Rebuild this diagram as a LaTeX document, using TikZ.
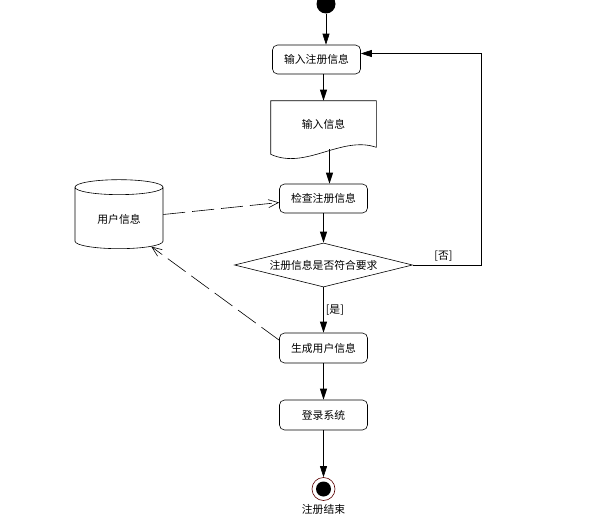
\documentclass[tikz,border=0pt]{standalone}
\usepackage{fontspec}
\setmainfont{Noto Sans CJK SC}
\usetikzlibrary{arrows.meta,positioning,shapes.geometric}

\begin{document}
\begin{tikzpicture}[x=1pt,y=-1pt,>={Triangle[length=11pt,width=7pt]},semithick,
		font=\fontsize{10.8}{12}\selectfont]
		\tikzset{act/.style={draw,rounded corners=5pt,minimum width=88pt,minimum height=29pt,inner sep=2pt},
			decision/.style={draw,diamond,aspect=4,minimum width=178pt,minimum height=44pt,inner sep=0pt},
			store/.style={draw,cylinder,shape border rotate=90,aspect=0.3,minimum width=88pt,minimum height=69pt},
			flow/.style={dash pattern=on 22pt off 7pt,-{Straight Barb[length=10pt,width=8pt]}}}
		\useasboundingbox (0,0) rectangle (598,530);

		\node[circle,fill,minimum size=19pt,inner sep=0pt] (start) at (326,4) {};
		\node[act,below of=start,node distance=55.5pt,xshift=-9.5pt] (input) {输入注册信息};
		\node[minimum width=105pt,minimum height=46pt,below of=input,node distance=64.5pt,xshift=7pt] (doc) {输入信息};
		\node[act,below of=doc,node distance=74.5pt] (check) {检查注册信息};
		\node[decision,below of=check,node distance=66.5pt] (decide) {注册信息是否符合要求};
		\node[act,minimum height=30pt,below of=decide,node distance=83pt] (gen) {生成用户信息};
		\node[act,minimum height=30pt,below of=gen,node distance=67pt] (login) {登录系统};
		\node[circle,draw=red!35!black,minimum size=23pt,inner sep=0pt,below of=login,node distance=74pt,
			path picture={\fill (path picture bounding box.center) circle (7.5pt);},
			label={[inner sep=3.5pt]below:注册结束}] (end) {};
		\node[store,left of=check,node distance=204.5pt,yshift=-21pt] (db) {用户信息};

		% document shape with wavy bottom
		\draw (doc.north west) -- (doc.north east) -- (doc.south east)
			.. controls +(-35pt,12pt) and +(35pt,-16pt) .. ([yshift=-7pt]doc.south west) -- cycle;

		\draw[->] (start) -- (start |- input.north);
		\draw[->] (input.south -| doc.north) -- (doc.north);
		\draw[->] ([xshift=6pt,yshift=-2pt]doc.south) -- ([xshift=6pt]check.north);
		\draw[->] (check) -- (decide);
		\draw[->] (decide) -- node[right,inner sep=2pt] {[是]} (gen);
		\draw[->] (decide.east) -- ++(68,0) node[above,pos=0.45] {[否]} |- ([yshift=6pt]input.east);
		\draw[->] (gen) -- (login);
		\draw[->] (login) -- (end);

		\draw[flow] ([yshift=5pt]db.east) -- ([yshift=-4pt]check.west);
		\draw[flow] (gen.170) -- (db.-40);
	\end{tikzpicture}
\end{document}
